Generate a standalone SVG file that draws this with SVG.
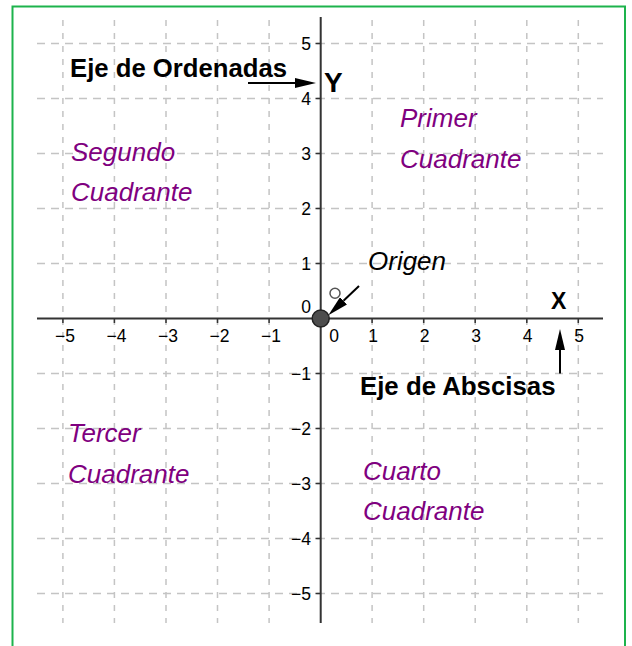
<svg xmlns="http://www.w3.org/2000/svg" width="632" height="646" viewBox="0 0 632 646">
<style>
.grid{stroke:#c4c4c4;stroke-width:1.5;fill:none}
.gh{stroke-dasharray:8,6}
.gv{stroke-dasharray:6,7}
.axis{stroke:#333;stroke-width:2;fill:none}
.tick{stroke:#333;stroke-width:1.5;fill:none}
.num{font-family:"Liberation Sans",Arial,sans-serif;font-size:17.5px;fill:#000}
.nx{text-anchor:middle}
.ny{text-anchor:end}
.bold{font-family:"Liberation Sans",Arial,sans-serif;font-weight:bold;fill:#000}
.quad{font-family:"Liberation Sans",Arial,sans-serif;font-style:italic;font-size:26px;fill:#7f007f}
.conn{stroke:#000;stroke-width:2;fill:none}
</style>
<defs>
<marker id="arr" markerUnits="userSpaceOnUse" markerWidth="21" markerHeight="10" refX="0" refY="5" orient="auto">
<path d="M0,0 L21,5 L0,10 Z" fill="#000"/>
</marker>
</defs>
<rect x="12.5" y="6.5" width="612.5" height="660" fill="#fff" stroke="#1db34c" stroke-width="2"/>
<g id="grid">
<path class="grid gh" d="M37,43.4H603M37,98.4H603M37,153.4H603M37,208.4H603M37,263.4H603M37,373.4H603M37,428.4H603M37,483.4H603M37,538.4H603M37,593.4H603"/>
<path class="grid gv" d="M62.9,20V623M114.4,20V623M166,20V623M217.5,20V623M269.1,20V623M372.1,20V623M423.7,20V623M475.2,20V623M526.8,20V623M578.3,20V623"/>
</g>
<g id="axes">
<path class="axis" d="M37,318.5H603M320.7,17V623"/>
<path class="tick" d="M62.9,318.5V323M114.4,318.5V323M166,318.5V323M217.5,318.5V323M269.1,318.5V323M372.1,318.5V323M423.7,318.5V323M475.2,318.5V323M526.8,318.5V323M578.3,318.5V323"/>
<path class="tick" d="M315.5,43.4H320.7M315.5,98.4H320.7M315.5,153.4H320.7M315.5,208.4H320.7M315.5,263.4H320.7M315.5,373.4H320.7M315.5,428.4H320.7M315.5,483.4H320.7M315.5,538.4H320.7M315.5,593.4H320.7"/>
</g>
<g id="x-labels" class="num nx">
<text x="65" y="341.5">−5</text>
<text x="116.5" y="341.5">−4</text>
<text x="168" y="341.5">−3</text>
<text x="219.5" y="341.5">−2</text>
<text x="271" y="341.5">−1</text>
<text x="334" y="341.5">0</text>
<text x="373" y="341.5">1</text>
<text x="424.5" y="341.5">2</text>
<text x="476" y="341.5">3</text>
<text x="527.5" y="341.5">4</text>
<text x="579" y="341.5">5</text>
</g>
<g id="y-labels" class="num ny">
<text x="311" y="49.5">5</text>
<text x="311" y="104.5">4</text>
<text x="311" y="159.5">3</text>
<text x="311" y="214.5">2</text>
<text x="311" y="269.5">1</text>
<text x="311" y="313">0</text>
<text x="311" y="379.5">−1</text>
<text x="311" y="434.5">−2</text>
<text x="311" y="489.5">−3</text>
<text x="311" y="544.5">−4</text>
<text x="311" y="599.5">−5</text>
</g>
<g id="connectors">
<line class="conn" x1="248" y1="83" x2="295" y2="83" marker-end="url(#arr)"/>
<line class="conn" x1="560" y1="373.5" x2="560" y2="350" marker-end="url(#arr)"/>
<line class="conn" x1="359" y1="286" x2="343.5" y2="300.8" marker-end="url(#arr)"/>
</g>
<g id="eje-ordenadas"><text class="bold" x="70" y="77" font-size="25.7">Eje de Ordenadas</text></g>
<g id="label-y"><text class="bold" x="324" y="91.5" font-size="28">Y</text></g>
<g id="label-x"><text class="bold" x="551" y="309" font-size="23">X</text></g>
<g id="eje-abscisas"><text class="bold" x="360" y="395" font-size="25.8">Eje de Abscisas</text></g>
<g id="origen"><text x="368" y="270" font-family="'Liberation Sans',Arial,sans-serif" font-style="italic" font-size="26" fill="#000">Origen</text></g>
<g id="primer-cuadrante" class="quad"><text x="400" y="127">Primer</text><text x="400" y="168">Cuadrante</text></g>
<g id="segundo-cuadrante" class="quad"><text x="71" y="161">Segundo</text><text x="71" y="201">Cuadrante</text></g>
<g id="tercer-cuadrante" class="quad"><text x="68" y="441.7">Tercer</text><text x="68" y="482.7">Cuadrante</text></g>
<g id="cuarto-cuadrante" class="quad"><text x="363" y="480">Cuarto</text><text x="363" y="520">Cuadrante</text></g>
<g id="origin-point">
<circle cx="320.7" cy="318.5" r="8.5" fill="#4d4d4d" stroke="#222" stroke-width="1.5"/>
</g>
<g id="hollow-point">
<circle cx="335" cy="293.3" r="5" fill="#fff" stroke="#555" stroke-width="1.5"/>
</g>
</svg>
